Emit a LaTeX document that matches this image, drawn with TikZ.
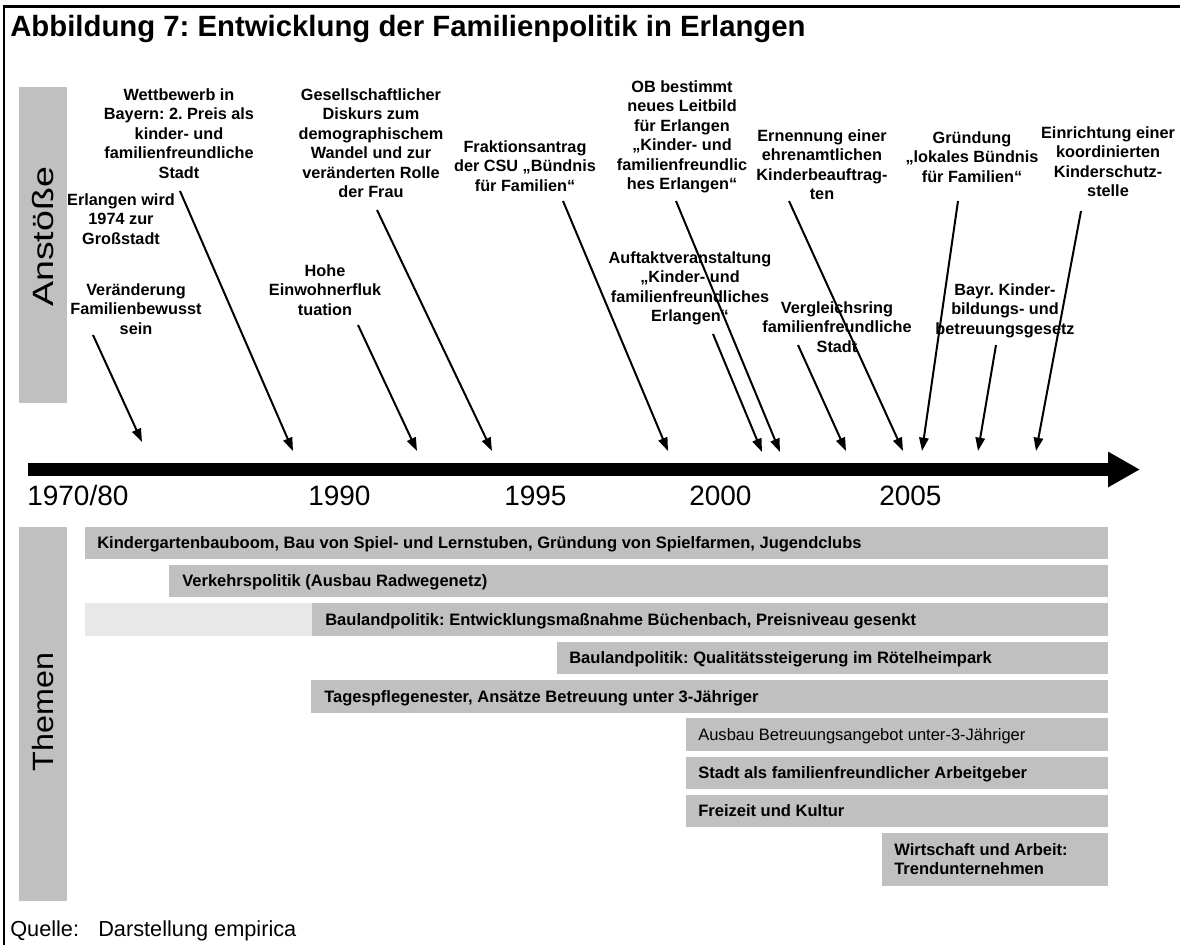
\documentclass[tikz,border=0pt]{standalone}
\usepackage{fontspec}
\usepackage{graphicx}
\setmainfont{Liberation Sans}
\usetikzlibrary{arrows.meta}
\definecolor{barg}{RGB}{192,192,192}
\definecolor{lightg}{RGB}{232,232,232}
\newcommand{\fl}{\rule{0pt}{9pt}}
\frenchspacing
\begin{document}
\begin{tikzpicture}[x=0.75pt,y=-0.75pt,
  lbl/.style={align=center, inner sep=0pt, anchor=north, font=\fontsize{12.2}{14.6}\selectfont\bfseries},
  bartxt/.style={anchor=base west, inner sep=0pt, font=\fontsize{12.4}{14.6}\selectfont\bfseries},
  yr/.style={anchor=base west, inner sep=0pt, font=\fontsize{21}{25}\selectfont},
  side/.style={rotate=90, anchor=base, inner sep=0pt, font=\fontsize{22}{26}\selectfont},
  imp/.style={line width=1.5pt, -{Triangle[length=10pt,width=7pt]}},
  frame/.style={line width=1.6pt},
  srctxt/.style={anchor=base west, inner sep=0pt, font=\fontsize{16.3}{20}\selectfont},
]
\useasboundingbox (0,0) rectangle (1180,945);
% frame
\draw[frame] (4,945) -- (4,6.5) -- (1180,6.5);
% title
\node[anchor=base west, inner sep=0pt, font=\fontsize{22}{26}\selectfont\bfseries] (title) at (10,37) {Abbildung 7: Entwicklung der Familienpolitik in Erlangen};
% side boxes
\fill[barg] (19,87) rectangle (67,403);
\fill[barg] (19,527) rectangle (67,901);
\node[side] (anst) at (53,237) {\scalebox{1.28}[1]{Anstöße}};
\node[side] (them) at (53,712) {\scalebox{1.1}[1]{Themen}};
% timeline
\coordinate (tl0) at (28,469.5);
\coordinate (tl1) at (1140,469.5);
\draw[line width=9.75pt, -{Triangle[length=24pt,width=25pt]}] (tl0) -- (tl1);
\node[yr] (y80) at (27,505) {1970/80};
\node[yr] (y90) at (308,505) {1990};
\node[yr] (y95) at (504,505) {1995};
\node[yr] (y00) at (689,505) {2000};
\node[yr] (y05) at (879,505) {2005};
% labels
\node[lbl] (l1) at (121,193) {\fl Erlangen wird\\1974 zur\\Großstadt};
\node[lbl] (l2) at (179,88) {\fl Wettbewerb in\\Bayern: 2. Preis als\\kinder- und\\familienfreundliche\\Stadt};
\node[lbl] (l3) at (136,283) {\fl Veränderung\\Familienbewusst\\sein};
\node[lbl] (l4) at (325,264) {\fl Hohe\\Einwohnerfluk\\tuation};
\node[lbl] (l5) at (371,88) {\fl Gesellschaftlicher\\Diskurs zum\\demographischem\\Wandel und zur\\veränderten Rolle\\der Frau};
\node[lbl] (l6) at (525,140) {\fl Fraktionsantrag\\der CSU „Bündnis\\für Familien“};
\node[lbl] (l7) at (682,80) {\fl OB bestimmt\\neues Leitbild\\für Erlangen\\„Kinder- und\\familienfreundlic\\hes Erlangen“};
\node[lbl] (l8) at (690,251) {\fl Auftaktveranstaltung\\„Kinder- und\\familienfreundliches\\Erlangen“};
\node[lbl] (l9) at (822,129) {\fl Ernennung einer\\ehrenamtlichen\\Kinderbeauftrag-\\ten};
\node[lbl] (l10) at (972,131) {\fl Gründung\\„lokales Bündnis\\für Familien“};
\node[lbl] (l11) at (1108,126) {\fl Einrichtung einer\\koordinierten\\Kinderschutz-\\stelle};
\node[lbl] (l12) at (837,301) {\fl Vergleichsring\\familienfreundliche\\Stadt};
\node[lbl] (l13) at (1005,283) {\fl Bayr. Kinder-\\bildungs- und\\betreuungsgesetz};
% arrows
\coordinate (a1s) at (93,335);   \coordinate (a1e) at (142,442);
\coordinate (a2s) at (180,191);  \coordinate (a2e) at (293,451);
\coordinate (a3s) at (358,325);  \coordinate (a3e) at (417,451);
\coordinate (a4s) at (377,210);  \coordinate (a4e) at (492,451);
\coordinate (a5s) at (563,201);  \coordinate (a5e) at (668,451);
\coordinate (a6s) at (713,334);  \coordinate (a6e) at (762,452);
\coordinate (a7s) at (676,201);  \coordinate (a7e) at (780,452);
\coordinate (a8s) at (798,345);  \coordinate (a8e) at (846,451);
\coordinate (a9s) at (789,201);  \coordinate (a9e) at (903,451);
\coordinate (a10s) at (958,201); \coordinate (a10e) at (922,451);
\coordinate (a11s) at (996,345); \coordinate (a11e) at (978,451);
\coordinate (a12s) at (1081,211);\coordinate (a12e) at (1036,451);
\foreach \i in {1,...,12} {\draw[imp] (a\i s) -- (a\i e);}
% theme bars
\fill[barg] (85,527) rectangle (1108,559);
\node[bartxt] (b1) at (97,548.7) {Kindergartenbauboom, Bau von Spiel- und Lernstuben, Gründung von Spielfarmen, Jugendclubs};
\fill[barg] (169,565) rectangle (1108,597);
\node[bartxt] (b2) at (182,586.7) {Verkehrspolitik (Ausbau Radwegenetz)};
\fill[lightg] (85,603) rectangle (312,636);
\fill[barg] (312,603) rectangle (1108,636);
\node[bartxt] (b3) at (325,625.2) {Baulandpolitik: Entwicklungsmaßnahme Büchenbach, Preisniveau gesenkt};
\fill[barg] (557,642) rectangle (1108,674);
\node[bartxt] (b4) at (569,663.7) {Baulandpolitik: Qualitätssteigerung im Rötelheimpark};
\fill[barg] (311,680) rectangle (1108,713);
\node[bartxt] (b5) at (324,702.2) {Tagespflegenester, Ansätze Betreuung unter 3-Jähriger};
\fill[barg] (686,718) rectangle (1108,751);
\node[bartxt, font=\fontsize{12.4}{14.6}\selectfont] (b6) at (698,740.2) {Ausbau Betreuungsangebot unter-3-Jähriger};
\fill[barg] (686,757) rectangle (1108,789);
\node[bartxt] (b7) at (698,778.7) {Stadt als familienfreundlicher Arbeitgeber};
\fill[barg] (686,795) rectangle (1108,827);
\node[bartxt] (b8) at (698,816.7) {Freizeit und Kultur};
\fill[barg] (882,833) rectangle (1108,886);
\node[lbl, align=left, anchor=north west, font=\fontsize{12.4}{14.6}\selectfont\bfseries] (b9) at (894,843) {\fl Wirtschaft und Arbeit:\\Trendunternehmen};
% source
\node[srctxt] (src) at (10,936) {Quelle:};
\node[srctxt] (src2) at (98,936) {Darstellung empirica};
\end{tikzpicture}
\end{document}
